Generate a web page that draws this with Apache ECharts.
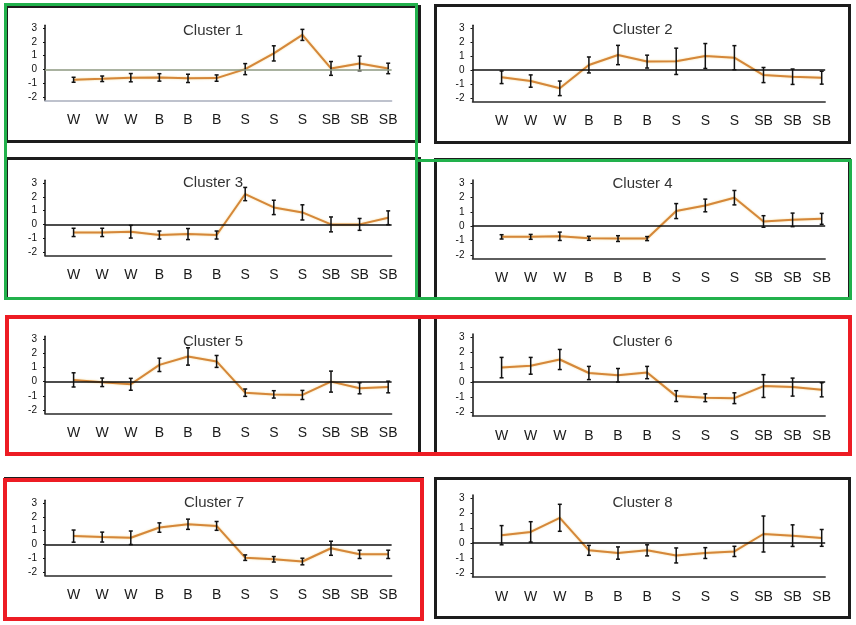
<!DOCTYPE html>
<html>
<head>
<meta charset="utf-8">
<title>Clusters</title>
<script src="https://cdn.jsdelivr.net/npm/echarts@6/dist/echarts.min.js"></script>
<style>
    html, body { margin: 0; padding: 0; background: #fff; }
    body { width: 856px; height: 625px; position: relative; overflow: hidden; }
    .panel { position: absolute; box-sizing: border-box; border: 3px solid #1c1c1c; background: #fff; }
    .frame { position: absolute; box-sizing: border-box; background: transparent; pointer-events: none; z-index: 10; }
</style>
</head>
<body>
<div class="panel" id="c1"></div>
<div class="panel" id="c2"></div>
<div class="panel" id="c3"></div>
<div class="panel" id="c4"></div>
<div class="panel" id="c5"></div>
<div class="panel" id="c6"></div>
<div class="panel" id="c7"></div>
<div class="panel" id="c8"></div>

<div class="frame" style="left:4px;top:3px;width:414px;height:297px;border:3px solid #22b14c;"></div>
<div class="frame" style="left:415px;top:159px;width:437px;height:141px;border:3px solid #22b14c;"></div>
<div class="frame" style="left:5px;top:315px;width:847px;height:141px;border:4px solid #ed1c24;"></div>
<div class="frame" style="left:3px;top:478px;width:421px;height:143px;border:4px solid #ed1c24;"></div>

<script>
// categories and tick values
var categories = ['W', 'W', 'W', 'B', 'B', 'B', 'S', 'S', 'S', 'SB', 'SB', 'SB'];
var yTicks = [-2, -1, 0, 1, 2, 3];

// cluster means and error (half length of bar)
var cluster1Mean = [-0.75, -0.68, -0.6, -0.58, -0.65, -0.63, 0.02, 1.16, 2.5, 0.07, 0.43, 0.07];
var cluster1Err  = [0.18, 0.2, 0.3, 0.27, 0.3, 0.23, 0.4, 0.55, 0.4, 0.5, 0.53, 0.38];
var cluster2Mean = [-0.52, -0.79, -1.31, 0.36, 1.07, 0.6, 0.62, 1.0, 0.88, -0.36, -0.48, -0.55];
var cluster2Err  = [0.45, 0.44, 0.52, 0.57, 0.69, 0.46, 0.94, 0.89, 0.86, 0.54, 0.55, 0.46];
var cluster3Mean = [-0.58, -0.58, -0.53, -0.77, -0.7, -0.77, 2.2, 1.23, 0.87, 0.0, 0.0, 0.48];
var cluster3Err  = [0.3, 0.3, 0.46, 0.29, 0.4, 0.29, 0.48, 0.52, 0.55, 0.54, 0.43, 0.5];
var cluster4Mean = [-0.74, -0.74, -0.7, -0.84, -0.86, -0.86, 1.05, 1.44, 1.98, 0.33, 0.44, 0.51];
var cluster4Err  = [0.15, 0.17, 0.29, 0.14, 0.2, 0.14, 0.52, 0.44, 0.5, 0.4, 0.47, 0.38];
var cluster5Mean = [0.12, -0.05, -0.19, 1.18, 1.77, 1.42, -0.78, -0.9, -0.94, 0.0, -0.47, -0.38];
var cluster5Err  = [0.5, 0.3, 0.42, 0.47, 0.61, 0.42, 0.26, 0.26, 0.32, 0.74, 0.39, 0.41];
var cluster6Mean = [0.96, 1.08, 1.5, 0.6, 0.45, 0.63, -0.94, -1.05, -1.08, -0.27, -0.34, -0.52];
var cluster6Err  = [0.68, 0.56, 0.67, 0.44, 0.45, 0.41, 0.36, 0.26, 0.36, 0.76, 0.6, 0.47];
var cluster7Mean = [0.6, 0.53, 0.48, 1.22, 1.46, 1.34, -0.96, -1.08, -1.24, -0.28, -0.72, -0.72];
var cluster7Err  = [0.44, 0.36, 0.49, 0.34, 0.37, 0.32, 0.2, 0.2, 0.24, 0.51, 0.3, 0.3];
var cluster8Mean = [0.52, 0.74, 1.68, -0.49, -0.67, -0.49, -0.83, -0.67, -0.56, 0.6, 0.49, 0.34];
var cluster8Err  = [0.64, 0.68, 0.9, 0.33, 0.41, 0.37, 0.5, 0.36, 0.34, 1.2, 0.72, 0.56];

// panel boxes [left, top, width, height] and where 3 / -2 sit on the page
var boxes = [[5, 5, 416, 138], [434, 4, 417, 140], [5, 157, 416, 143], [434, 158, 417, 142],
             [5, 316, 416, 140], [434, 316, 417, 140], [4, 477, 420, 143], [434, 477, 417, 142]];
var yMarks = [[28, 97], [28, 98], [183, 252], [183, 255], [339, 410], [337, 412], [503, 572], [498, 573]];

var FONT = '"Liberation Sans", Arial, sans-serif';

function errorBar(params, api) {
    var x = api.value(0);
    var lo = api.coord([x, api.value(1)]);
    var hi = api.coord([x, api.value(2)]);
    var cap = 2;
    var st = { stroke: '#111', lineWidth: 1.5 };
    return {
        type: 'group',
        children: [
            { type: 'line', shape: { x1: lo[0], y1: lo[1], x2: hi[0], y2: hi[1] }, style: st },
            { type: 'line', shape: { x1: lo[0] - cap, y1: lo[1], x2: lo[0] + cap, y2: lo[1] }, style: st },
            { type: 'line', shape: { x1: hi[0] - cap, y1: hi[1], x2: hi[0] + cap, y2: hi[1] }, style: st }
        ]
    };
}

function makePanel(n, mean, err) {
    var el = document.getElementById('c' + n);
    var b = boxes[n - 1];
    el.style.left = b[0] + 'px';
    el.style.top = b[1] + 'px';
    el.style.width = b[2] + 'px';
    el.style.height = b[3] + 'px';

    var right = b[0] > 400;
    var x0 = right ? 472.5 : 45;
    var step = right ? 29.1 : 28.6;
    var xMax = 12.12;
    var ym = yMarks[n - 1];
    var unit = (ym[1] - ym[0]) / 5;

    var lineData = mean.map(function (v, i) { return [i + 1, v]; });
    var barData = mean.map(function (v, i) { return [i + 1, v - err[i], v + err[i]]; });

    // cluster 1 has paler axis lines in the scan
    var zeroColor = n === 1 ? '#8c9880' : '#111';
    var baseColor = n === 1 ? '#a9aebd' : '#2a2a2a';

    var myChart = echarts.init(el);
    myChart.setOption({
        animation: false,
        title: {
            text: 'Cluster ' + n,
            left: 'center',
            top: 10,
            textStyle: { fontFamily: FONT, fontSize: 15, fontWeight: 'normal', color: '#333' }
        },
        grid: {
            left: x0 - b[0] - 3,
            top: ym[0] - 0.2 * unit - b[1] - 3,
            width: step * xMax,
            height: 5.45 * unit
        },
        xAxis: {
            type: 'value',
            min: 0,
            max: xMax,
            splitLine: { show: false },
            axisTick: { show: false },
            axisLine: { show: true, onZero: false, lineStyle: { color: baseColor, width: 1.5 } },
            axisLabel: {
                customValues: categories.map(function (c, i) { return i + 1; }),
                formatter: function (v) { return categories[v - 1] || ''; },
                margin: 13,
                fontFamily: FONT,
                fontSize: 14,
                color: '#1a1a1a'
            }
        },
        yAxis: {
            type: 'value',
            min: -2.25,
            max: 3.2,
            splitLine: { show: false },
            axisLine: { show: true, lineStyle: { color: '#111', width: 1.5 } },
            axisTick: { show: true, customValues: yTicks, length: 2, lineStyle: { color: '#111' } },
            axisLabel: {
                customValues: yTicks,
                margin: 8,
                fontFamily: FONT,
                fontSize: 10,
                color: '#111'
            }
        },
        series: [
            {
                type: 'line',
                data: lineData,
                symbol: 'none',
                z: 3,
                lineStyle: { color: '#d5873a', width: 2, shadowColor: 'rgba(240,200,100,0.7)', shadowBlur: 2 },
                markLine: {
                    silent: true,
                    symbol: ['none', 'none'],
                    label: { show: false },
                    lineStyle: { color: zeroColor, width: 1.5, type: 'solid' },
                    data: [{ yAxis: 0 }]
                }
            },
            {
                type: 'custom',
                renderItem: errorBar,
                data: barData,
                encode: { x: 0, y: [1, 2] },
                z: 4
            }
        ]
    });
}

makePanel(1, cluster1Mean, cluster1Err);
makePanel(2, cluster2Mean, cluster2Err);
makePanel(3, cluster3Mean, cluster3Err);
makePanel(4, cluster4Mean, cluster4Err);
makePanel(5, cluster5Mean, cluster5Err);
makePanel(6, cluster6Mean, cluster6Err);
makePanel(7, cluster7Mean, cluster7Err);
makePanel(8, cluster8Mean, cluster8Err);
</script>
</body>
</html>
